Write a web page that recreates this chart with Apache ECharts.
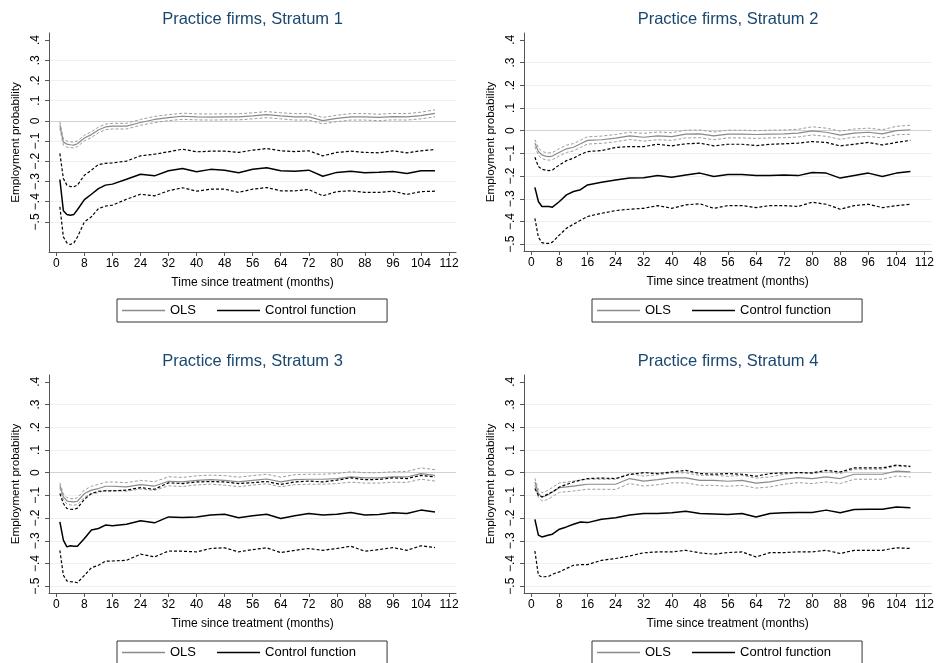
<!DOCTYPE html>
<html>
<head>
<meta charset="utf-8">
<script src="https://cdn.jsdelivr.net/npm/echarts@6/dist/echarts.min.js"></script>
<style>
html, body { margin: 0; background: #fff; }
#main { width: 937px; height: 663px; }
</style>
</head>
<body>
<div id="main"></div>
<script>
var months = [1, 2, 3, 4, 5, 6, 8, 10, 12, 14, 16, 20, 24, 28, 32, 36, 40, 44, 48, 52, 56, 60, 64, 68, 72, 76, 80, 84, 88, 92, 96, 100, 104, 108];

// Stratum 1
var ols1   = [-0.021, -0.105, -0.115, -0.118, -0.12, -0.113, -0.085, -0.068, -0.045, -0.03, -0.026, -0.026, -0.008, 0.007, 0.016, 0.023, 0.02, 0.019, 0.02, 0.02, 0.025, 0.031, 0.025, 0.02, 0.02, 0.001, 0.012, 0.02, 0.02, 0.017, 0.021, 0.02, 0.026, 0.037];
var olsHi1 = [-0.005, -0.09, -0.1, -0.104, -0.105, -0.099, -0.071, -0.054, -0.031, -0.016, -0.012, -0.012, 0.007, 0.022, 0.031, 0.038, 0.035, 0.034, 0.035, 0.035, 0.04, 0.046, 0.04, 0.036, 0.036, 0.017, 0.028, 0.036, 0.036, 0.033, 0.037, 0.036, 0.043, 0.055];
var olsLo1 = [-0.037, -0.12, -0.13, -0.132, -0.134, -0.127, -0.099, -0.082, -0.059, -0.044, -0.04, -0.04, -0.022, -0.008, 0.001, 0.008, 0.005, 0.004, 0.005, 0.005, 0.01, 0.016, 0.01, 0.004, 0.004, -0.015, -0.004, 0.004, 0.004, 0.001, 0.005, 0.004, 0.01, 0.02];
var cf1    = [-0.29, -0.445, -0.463, -0.467, -0.463, -0.44, -0.39, -0.363, -0.335, -0.318, -0.313, -0.289, -0.264, -0.272, -0.247, -0.236, -0.252, -0.24, -0.244, -0.257, -0.239, -0.232, -0.247, -0.249, -0.244, -0.274, -0.255, -0.249, -0.257, -0.254, -0.25, -0.26, -0.247, -0.247];
var cfHi1  = [-0.161, -0.285, -0.318, -0.325, -0.326, -0.318, -0.269, -0.244, -0.216, -0.21, -0.208, -0.199, -0.173, -0.165, -0.153, -0.14, -0.153, -0.15, -0.15, -0.156, -0.145, -0.137, -0.148, -0.152, -0.148, -0.173, -0.156, -0.15, -0.156, -0.158, -0.148, -0.158, -0.148, -0.142];
var cfLo1  = [-0.425, -0.574, -0.604, -0.612, -0.604, -0.575, -0.5, -0.475, -0.434, -0.422, -0.417, -0.388, -0.363, -0.371, -0.346, -0.331, -0.348, -0.338, -0.338, -0.354, -0.338, -0.33, -0.346, -0.346, -0.34, -0.371, -0.35, -0.346, -0.354, -0.354, -0.348, -0.364, -0.35, -0.348];

// Stratum 2
var ols2   = [-0.055, -0.092, -0.107, -0.112, -0.114, -0.112, -0.095, -0.08, -0.073, -0.058, -0.043, -0.04, -0.033, -0.023, -0.029, -0.023, -0.026, -0.015, -0.014, -0.023, -0.015, -0.015, -0.017, -0.015, -0.014, -0.011, -0.001, -0.007, -0.02, -0.011, -0.007, -0.014, 0, 0.004];
var olsHi2 = [-0.04, -0.076, -0.091, -0.096, -0.098, -0.096, -0.079, -0.064, -0.057, -0.042, -0.027, -0.024, -0.017, -0.007, -0.012, -0.006, -0.009, 0.002, 0.003, -0.006, 0.002, 0.002, 0, 0.002, 0.003, 0.006, 0.017, 0.011, -0.002, 0.007, 0.011, 0.004, 0.019, 0.024];
var olsLo2 = [-0.07, -0.108, -0.123, -0.128, -0.13, -0.128, -0.111, -0.096, -0.089, -0.074, -0.059, -0.056, -0.049, -0.039, -0.046, -0.04, -0.043, -0.032, -0.031, -0.04, -0.032, -0.032, -0.034, -0.032, -0.031, -0.028, -0.019, -0.025, -0.038, -0.029, -0.025, -0.032, -0.018, -0.016];
var cf2    = [-0.25, -0.312, -0.334, -0.334, -0.334, -0.337, -0.312, -0.283, -0.268, -0.26, -0.239, -0.227, -0.217, -0.209, -0.207, -0.198, -0.205, -0.195, -0.187, -0.202, -0.193, -0.193, -0.198, -0.198, -0.195, -0.198, -0.184, -0.187, -0.209, -0.198, -0.187, -0.202, -0.187, -0.18];
var cfHi2  = [-0.117, -0.158, -0.17, -0.174, -0.176, -0.173, -0.151, -0.132, -0.121, -0.105, -0.092, -0.088, -0.074, -0.07, -0.07, -0.06, -0.067, -0.058, -0.055, -0.067, -0.06, -0.06, -0.066, -0.06, -0.058, -0.055, -0.048, -0.052, -0.067, -0.06, -0.052, -0.063, -0.052, -0.043];
var cfLo2  = [-0.386, -0.469, -0.493, -0.496, -0.496, -0.491, -0.459, -0.43, -0.412, -0.395, -0.378, -0.364, -0.352, -0.346, -0.342, -0.33, -0.342, -0.327, -0.322, -0.342, -0.33, -0.33, -0.339, -0.33, -0.33, -0.334, -0.315, -0.324, -0.346, -0.33, -0.324, -0.339, -0.33, -0.324];

// Stratum 3
var ols3   = [-0.056, -0.107, -0.124, -0.128, -0.129, -0.126, -0.092, -0.077, -0.07, -0.06, -0.06, -0.063, -0.053, -0.059, -0.038, -0.041, -0.034, -0.031, -0.034, -0.041, -0.034, -0.028, -0.041, -0.031, -0.029, -0.029, -0.026, -0.019, -0.023, -0.023, -0.019, -0.019, -0.004, -0.012];
var olsHi3 = [-0.045, -0.094, -0.11, -0.114, -0.115, -0.111, -0.076, -0.06, -0.052, -0.042, -0.041, -0.044, -0.034, -0.04, -0.018, -0.021, -0.014, -0.011, -0.013, -0.02, -0.013, -0.007, -0.02, -0.009, -0.007, -0.007, -0.004, 0.004, 0, 0, 0.004, 0.005, 0.021, 0.013];
var olsLo3 = [-0.067, -0.12, -0.138, -0.142, -0.143, -0.141, -0.108, -0.094, -0.088, -0.078, -0.079, -0.082, -0.072, -0.078, -0.058, -0.061, -0.054, -0.051, -0.055, -0.062, -0.055, -0.049, -0.062, -0.053, -0.051, -0.051, -0.048, -0.042, -0.046, -0.046, -0.042, -0.043, -0.029, -0.037];
var cf3    = [-0.217, -0.297, -0.327, -0.322, -0.324, -0.324, -0.29, -0.253, -0.246, -0.231, -0.234, -0.227, -0.212, -0.221, -0.195, -0.198, -0.195, -0.187, -0.183, -0.199, -0.19, -0.183, -0.202, -0.19, -0.18, -0.187, -0.183, -0.176, -0.187, -0.184, -0.177, -0.18, -0.165, -0.173];
var cfHi3  = [-0.092, -0.136, -0.158, -0.161, -0.162, -0.156, -0.117, -0.092, -0.082, -0.08, -0.08, -0.077, -0.066, -0.073, -0.045, -0.048, -0.041, -0.039, -0.041, -0.048, -0.044, -0.039, -0.052, -0.041, -0.037, -0.041, -0.033, -0.023, -0.031, -0.03, -0.023, -0.026, -0.012, -0.019];
var cfLo3  = [-0.342, -0.452, -0.477, -0.48, -0.481, -0.485, -0.452, -0.419, -0.408, -0.39, -0.389, -0.386, -0.359, -0.371, -0.345, -0.346, -0.349, -0.334, -0.331, -0.349, -0.339, -0.331, -0.352, -0.342, -0.334, -0.342, -0.334, -0.324, -0.346, -0.339, -0.33, -0.342, -0.322, -0.33];

// Stratum 4
var ols4   = [-0.041, -0.092, -0.107, -0.103, -0.095, -0.085, -0.066, -0.063, -0.059, -0.055, -0.051, -0.051, -0.051, -0.026, -0.037, -0.031, -0.023, -0.023, -0.034, -0.034, -0.038, -0.034, -0.046, -0.041, -0.029, -0.022, -0.026, -0.019, -0.026, -0.007, -0.007, -0.007, 0.007, 0.003];
var olsHi4 = [-0.025, -0.075, -0.088, -0.083, -0.075, -0.065, -0.045, -0.042, -0.037, -0.033, -0.029, -0.029, -0.029, -0.004, -0.015, -0.009, -0.001, -0.001, -0.012, -0.012, -0.016, -0.012, -0.024, -0.019, -0.007, 0, -0.004, 0.003, -0.004, 0.015, 0.015, 0.015, 0.029, 0.025];
var olsLo4 = [-0.057, -0.108, -0.124, -0.122, -0.115, -0.105, -0.087, -0.084, -0.081, -0.077, -0.073, -0.073, -0.074, -0.048, -0.059, -0.053, -0.045, -0.045, -0.056, -0.056, -0.06, -0.056, -0.068, -0.063, -0.051, -0.044, -0.048, -0.041, -0.048, -0.029, -0.029, -0.029, -0.015, -0.019];
var cf4    = [-0.206, -0.275, -0.283, -0.279, -0.275, -0.271, -0.249, -0.239, -0.227, -0.217, -0.22, -0.205, -0.199, -0.187, -0.18, -0.18, -0.177, -0.17, -0.18, -0.182, -0.184, -0.18, -0.195, -0.18, -0.177, -0.176, -0.176, -0.165, -0.177, -0.162, -0.161, -0.161, -0.151, -0.155];
var cfHi4  = [-0.07, -0.1, -0.107, -0.1, -0.092, -0.085, -0.063, -0.052, -0.041, -0.033, -0.026, -0.024, -0.026, -0.008, 0, -0.004, 0.003, 0.01, -0.004, -0.007, -0.004, -0.007, -0.016, -0.004, -0.001, 0, -0.001, 0.01, 0.003, 0.021, 0.021, 0.021, 0.033, 0.028];
var cfLo4  = [-0.345, -0.452, -0.459, -0.458, -0.456, -0.447, -0.437, -0.422, -0.408, -0.405, -0.405, -0.386, -0.378, -0.367, -0.353, -0.349, -0.349, -0.342, -0.353, -0.359, -0.352, -0.349, -0.371, -0.352, -0.352, -0.349, -0.349, -0.342, -0.356, -0.342, -0.342, -0.342, -0.331, -0.334];

var titles = ['Practice firms, Stratum 1', 'Practice firms, Stratum 2', 'Practice firms, Stratum 3', 'Practice firms, Stratum 4'];
var yTicks = [-0.5, -0.4, -0.3, -0.2, -0.1, 0, 0.1, 0.2, 0.3, 0.4];
var xTicks = [0, 8, 16, 24, 32, 40, 48, 56, 64, 72, 80, 88, 96, 104, 112];

var strata = [
    [ols1, olsHi1, olsLo1, cf1, cfHi1, cfLo1],
    [ols2, olsHi2, olsLo2, cf2, cfHi2, cfLo2],
    [ols3, olsHi3, olsLo3, cf3, cfHi3, cfLo3],
    [ols4, olsHi4, olsLo4, cf4, cfHi4, cfLo4]
];

// panel layout (pixels)
var panels = [
    {left: 49,  top: 33,  width: 407, height: 219, ymin: -0.649, ymax: 0.435, titleTop: 11,  legendTop: 299},
    {left: 524, top: 33,  width: 408, height: 218, ymin: -0.53,  ymax: 0.43,  titleTop: 11,  legendTop: 299},
    {left: 49,  top: 375, width: 407, height: 218, ymin: -0.53,  ymax: 0.43,  titleTop: 353, legendTop: 641},
    {left: 524, top: 375, width: 408, height: 218, ymin: -0.53,  ymax: 0.43,  titleTop: 353, legendTop: 641}
];

var FONT = 'Liberation Sans, Arial, sans-serif';
var axisColor = '#555';

function stataLabel(v) {
    if (Math.abs(v) < 1e-9) return '0';
    var s = String(Math.round(Math.abs(v) * 10) / 10).replace('0.', '.');
    return (v < 0 ? '\u2212' : '') + s;
}

function pairs(arr) {
    return months.map(function (m, i) { return [m, arr[i]]; });
}

var gridLineColors = ['#eaf2f3', '#eaf2f3', '#eaf2f3', '#eaf2f3', '#eaf2f3', '#d2d2d2', '#eaf2f3', '#eaf2f3', '#eaf2f3', 'rgba(0,0,0,0)'];

var option = {
    animation: false,
    backgroundColor: '#fff',
    textStyle: {fontFamily: FONT},
    title: [], grid: [], xAxis: [], yAxis: [], legend: [], series: []
};

panels.forEach(function (p, k) {
    option.title.push({
        text: titles[k],
        left: p.left + p.width / 2,
        top: p.titleTop,
        textAlign: 'center',
        padding: 0,
        textStyle: {fontSize: 16.5, fontWeight: 'normal', color: '#1a476f', fontFamily: FONT}
    });
    option.grid.push({left: p.left, top: p.top, width: p.width, height: p.height});
    option.xAxis.push({
        type: 'value', gridIndex: k, min: -2.1, max: 114,
        name: 'Time since treatment (months)', nameLocation: 'middle', nameGap: 25,
        nameTextStyle: {fontSize: 12, color: '#000', fontFamily: FONT},
        axisLine: {onZero: false, lineStyle: {color: axisColor}},
        axisTick: {customValues: xTicks, length: 4, lineStyle: {color: axisColor}},
        axisLabel: {customValues: xTicks, fontSize: 12, color: '#000', margin: 6, fontFamily: FONT},
        splitLine: {show: false}
    });
    option.yAxis.push({
        type: 'value', gridIndex: k, min: p.ymin, max: p.ymax,
        name: 'Employment probability', nameLocation: 'middle', nameGap: 27, nameRotate: 90,
        nameTextStyle: {fontSize: 11.6, color: '#000', fontFamily: FONT},
        axisLine: {show: true, onZero: false, lineStyle: {color: axisColor}},
        axisTick: {show: true, customValues: yTicks, length: 4, lineStyle: {color: axisColor}},
        axisLabel: {customValues: yTicks, rotate: 90, fontSize: 12, color: '#000', margin: 7, formatter: stataLabel, fontFamily: FONT},
        splitLine: {show: true, lineStyle: {color: gridLineColors, width: 1}}
    });
    option.legend.push({
        data: ['OLS', 'Control function'],
        left: p.left + 68, top: p.legendTop,
        icon: 'rect', itemWidth: 43, itemHeight: 1.5, itemGap: 21,
        padding: [5, 31, 5, 5],
        borderColor: '#333', borderWidth: 1,
        textStyle: {fontSize: 13, color: '#000', fontFamily: FONT},
        selectedMode: false
    });
    var s = strata[k];
    var defs = [
        {name: 'OLS', d: s[0], color: '#8a8a8a', w: 1.2, type: 'solid'},
        {name: 'OLS upper', d: s[1], color: '#9c9c9c', w: 1, type: [3, 2]},
        {name: 'OLS lower', d: s[2], color: '#9c9c9c', w: 1, type: [3, 2]},
        {name: 'Control function', d: s[3], color: '#000', w: 1.5, type: 'solid'},
        {name: 'CF upper', d: s[4], color: '#000', w: 1.2, type: [3, 2]},
        {name: 'CF lower', d: s[5], color: '#000', w: 1.2, type: [3, 2]}
    ];
    defs.forEach(function (d) {
        option.series.push({
            name: d.name, type: 'line', xAxisIndex: k, yAxisIndex: k,
            data: pairs(d.d), showSymbol: false, symbol: 'none',
            itemStyle: {color: d.color},
            lineStyle: {color: d.color, width: d.w, type: d.type},
            emphasis: {disabled: true}
        });
    });
});

var chart = echarts.init(document.getElementById('main'));
chart.setOption(option);
</script>
</body>
</html>
